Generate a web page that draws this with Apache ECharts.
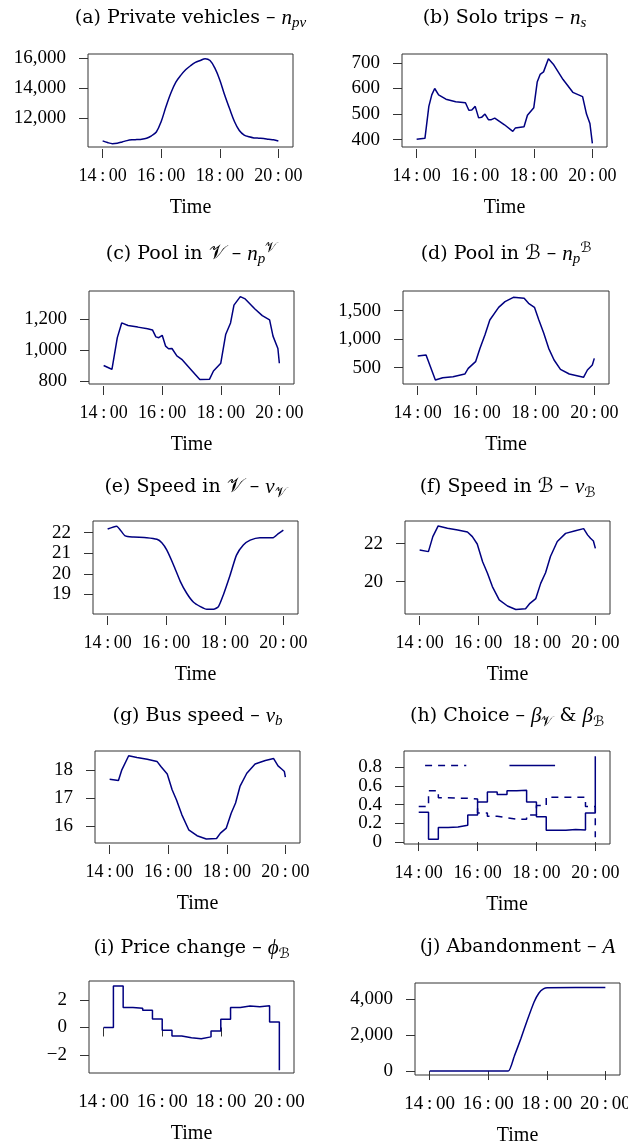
<!DOCTYPE html>
<html>
<head>
<meta charset="utf-8">
<title>Simulation results</title>
<script src="https://cdn.jsdelivr.net/npm/echarts@6.0.0/dist/echarts.min.js"></script>
<style>
  html, body { margin: 0; padding: 0; background: #fff; }
  #main { width: 628px; height: 1144px; }
</style>
</head>
<body>
<div id="main"></div>
<script>
// ---- data ----
var hourTicks = [14, 16, 18, 20];

// (a) private vehicles
var privT = ["14:00","14:10","14:20","14:30","14:40","14:50","15:00","15:10","15:20","15:30","15:40","15:50",
  "16:00","16:10","16:20","16:30","16:40","16:50","17:00","17:10","17:20","17:30","17:40","17:50",
  "18:00","18:10","18:20","18:30","18:40","18:50","19:00","19:10","19:20","19:30","19:40","19:50","20:00"];
var privV = [10510,10400,10330,10360,10440,10530,10580,10600,10620,10690,10850,11100,
  11800,12800,13700,14400,14850,15220,15490,15710,15840,15960,15840,15330,
  14550,13550,12650,11800,11200,10900,10780,10710,10690,10670,10620,10580,10510];
var privTicks = [12000, 14000, 16000];

// (b) solo trips
var soloT = ["14:00","14:17","14:25","14:31","14:37","14:45","15:00","15:20","15:40","15:47","15:53","16:00",
  "16:07","16:13","16:20","16:27","16:33","16:40","17:00","17:17","17:22","17:40","17:47","18:00",
  "18:07","18:13","18:20","18:30","18:40","19:00","19:20","19:40","19:48","19:55","20:00"];
var soloV = [401,405,530,575,600,575,558,548,544,515,516,530,
  485,487,500,478,478,484,458,432,445,450,495,525,
  625,655,665,716,695,635,585,568,500,463,385];
var soloTicks = [400, 500, 600, 700];

// (c) pool in V
var poolVT = ["14:00","14:10","14:17","14:28","14:37","14:50","15:10","15:30","15:40","15:47","15:53","16:00",
  "16:07","16:13","16:20","16:30","16:40","17:00","17:17","17:37","17:45","18:00","18:10","18:20",
  "18:27","18:40","18:50","19:10","19:25","19:40","19:47","19:57","20:00"];
var poolVV = [900,886,875,1080,1175,1158,1148,1137,1130,1085,1080,1095,
  1025,1008,1010,962,940,870,810,812,865,915,1100,1175,
  1290,1345,1330,1265,1222,1195,1090,1010,915];
var poolVTicks = [800, 1000, 1200];

// (d) pool in B
var poolBT = ["14:00","14:17","14:36","14:51","15:12","15:36","15:43","15:58","16:07","16:17","16:27","16:45",
  "16:58","17:15","17:37","17:46","17:58","18:07","18:17","18:27","18:38","18:51","19:09","19:38",
  "19:46","19:56","20:00"];
var poolBV = [704,722,283,324,342,388,488,605,839,1073,1336,1558,
  1658,1734,1716,1629,1558,1336,1102,839,634,470,388,330,
  459,546,663];
var poolBTicks = [500, 1000, 1500];

// (e) speed in V
var speedVT = ["14:00","14:18","14:36","14:53","15:20","15:41","15:51","16:01","16:15","16:29","16:42","16:56",
  "17:10","17:23","17:37","17:47","17:57","18:11","18:24","18:38","18:52","19:12","19:39","19:49","20:00"];
var speedVV = [22.18,22.32,21.84,21.79,21.76,21.68,21.51,21.16,20.43,19.62,19.05,18.61,
  18.40,18.27,18.27,18.40,18.97,19.94,20.91,21.40,21.64,21.76,21.76,21.94,22.13];
var speedVTicks = [19, 20, 21, 22];

// (f) speed in B
var speedBT = ["14:00","14:18","14:27","14:38","14:57","15:18","15:38","15:48","15:58","16:09","16:19","16:29",
  "16:43","17:00","17:17","17:37","17:46","17:58","18:08","18:18","18:28","18:42","18:59","19:19",
  "19:36","19:44","19:50","19:56","20:00"];
var speedBV = [21.67,21.58,22.37,22.93,22.81,22.72,22.61,22.37,21.98,21.05,20.44,19.74,
  19.04,18.72,18.54,18.58,18.86,19.11,19.91,20.47,21.32,22.11,22.54,22.68,
  22.79,22.46,22.28,22.14,21.75];
var speedBTicks = [20, 22];

// (g) bus speed
var busT = ["14:00","14:18","14:25","14:39","14:56","15:17","15:37","15:45","15:58","16:08","16:17","16:28",
  "16:42","16:59","17:18","17:39","17:47","17:59","18:09","18:18","18:27","18:41","18:58","19:19",
  "19:36","19:45","19:53","19:58","20:00"];
var busV = [17.67,17.62,18.0,18.50,18.44,18.38,18.30,18.12,17.85,17.29,16.93,16.40,
  15.87,15.66,15.54,15.56,15.75,15.93,16.46,16.82,17.41,17.88,18.21,18.33,
  18.40,18.14,18.02,17.94,17.74];
var busTicks = [16, 17, 18];

// (h) choice and (i) price, piecewise constant over 20 min periods
var stepT = ["14:00","14:20","14:40","15:00","15:20","15:40","16:00","16:20","16:40","17:00",
  "17:20","17:40","18:00","18:20","18:40","19:00","19:20","19:40","20:00"];
var betaV = [0.32,0.03,0.155,0.16,0.18,0.29,0.43,0.535,0.51,0.55,
  0.555,0.43,0.27,0.125,0.125,0.135,0.13,0.31,0.92];
var betaB = [0.38,0.55,0.475,0.47,0.47,0.46,0.31,0.275,0.26,0.245,
  0.245,0.29,0.39,0.48,0.48,0.48,0.48,0.38,0.05];
var topDashT = ["14:13","15:37"];
var topDashV = [0.82, 0.82];
var topSolidT = ["17:05","18:38"];
var topSolidV = [0.82, 0.82];
var choiceTicks = [0, 0.4, 0.8];
var choiceTicks2 = [0.2, 0.6];   // drawn on a twin axis so none get thinned out

var priceV = [0,3.0,1.45,1.40,1.25,0.62,-0.2,-0.62,-0.75,-0.82,
  -0.68,-0.25,0.60,1.45,1.55,1.50,1.57,0.40,-3.1];
var priceTicks = [-2, 0, 2];

// (j) abandonment
var abandonT = ["14:00","16:41","16:53","17:07","17:20","17:34","17:44","17:53","18:01","20:00"];
var abandonV = [0,0,796,1815,2833,3852,4352,4574,4648,4650];
var abandonTicks = [0, 2000, 4000];

// ---- helpers ----
var LINE = '#000080';
var AXIS = '#333333';
var SERIF = "'Liberation Serif', 'Times New Roman', serif";
var CAPTION = "'DejaVu Serif', 'Liberation Serif', serif";
var MATH = "'Liberation Serif', 'DejaVu Serif', 'DejaVu Sans', serif";

function hrs(s) {
	var p = s.split(':');
	return +p[0] + (+p[1]) / 60;
}

function pairs(ts, vs) {
	return ts.map(function(t, i) {
		return [hrs(t), vs[i]];
	});
}

function fmtNum(v) {
	var a = Math.abs(v);
	var s = a >= 1000 ? String(a).replace(/\B(?=(\d{3})+(?!\d))/g, ',') : String(a);
	return (v < 0 ? '\u2212' : '') + s;
}

function fmtHour(v) {
	return Math.round(v) + '\u2009:\u200900';
}

function tok(o) {
	o.color = '#000';
	o.fontWeight = 'normal';
	return o;
}

var RICH = {
	t: tok({ fontFamily: CAPTION, fontSize: 19, lineHeight: 26 }),
	i: tok({ fontFamily: SERIF, fontStyle: 'italic', fontSize: 21, lineHeight: 26 }),
	c: tok({ fontFamily: MATH, fontSize: 20, lineHeight: 26 }),
	s: tok({ fontFamily: SERIF, fontStyle: 'italic', fontSize: 15, lineHeight: 14, verticalAlign: 'bottom' }),
	sc: tok({ fontFamily: MATH, fontSize: 14, lineHeight: 14, verticalAlign: 'bottom' }),
	u: tok({ fontFamily: MATH, fontSize: 14, lineHeight: 14, verticalAlign: 'top' })
};

var panels = [
	{ title: '{t|(a) Private vehicles \u2013 }{i|n}{s|pv}', box: [88, 54, 205, 93], ty: 18,
		y: [10107, 16267], ticks: privTicks, lines: [{ data: pairs(privT, privV), smooth: 0.35 }] },
	{ title: '{t|(b) Solo trips \u2013 }{i|n}{s|s}', box: [402, 54, 205, 93], ty: 18,
		y: [371, 735], ticks: soloTicks, lines: [{ data: pairs(soloT, soloV) }] },
	{ title: '{t|(c) Pool in }{c|\uD835\uDCB1}{t| \u2013 }{i|n}{s|p}{u|\uD835\uDCB1}', box: [89, 291, 205, 93], ty: 254,
		y: [781, 1381], ticks: poolVTicks, lines: [{ data: pairs(poolVT, poolVV) }] },
	{ title: '{t|(d) Pool in }{c|\u212C}{t| \u2013 }{i|n}{s|p}{u|\u212C}', box: [403, 291, 206, 93], ty: 254,
		y: [213, 1845], ticks: poolBTicks, lines: [{ data: pairs(poolBT, poolBV) }] },
	{ title: '{t|(e) Speed in }{c|\uD835\uDCB1}{t| \u2013 }{i|v}{sc|\uD835\uDCB1}', box: [93, 521, 205, 93], ty: 487,
		y: [18.04, 22.57], ticks: speedVTicks, lines: [{ data: pairs(speedVT, speedVV), smooth: 0.2 }] },
	{ title: '{t|(f) Speed in }{c|\u212C}{t| \u2013 }{i|v}{sc|\u212C}', box: [405, 521, 205, 93], ty: 487,
		y: [18.30, 23.19], ticks: speedBTicks, lines: [{ data: pairs(speedBT, speedBV) }] },
	{ title: '{t|(g) Bus speed \u2013 }{i|v}{s|b}', box: [95, 751, 205, 92], ty: 716,
		y: [15.40, 18.67], ticks: busTicks, lines: [{ data: pairs(busT, busV) }] },
	{ title: '{t|(h) Choice \u2013 }{i|\u03B2}{sc|\uD835\uDCB1}{t| & }{i|\u03B2}{sc|\u212C}', box: [404, 751, 206, 93], ty: 716,
		y: [-0.021, 0.975], ticks: choiceTicks, ticks2: choiceTicks2, lines: [
			{ data: pairs(stepT, betaV), step: 'end' },
			{ data: pairs(stepT, betaB), step: 'end', dash: true },
			{ data: pairs(topDashT, topDashV), dash: true },
			{ data: pairs(topSolidT, topSolidV) }
		] },
	{ title: '{t|(i) Price change \u2013 }{i|\u03D5}{sc|\u212C}', box: [89, 981, 205, 92], ty: 948, xFont: 19,
		y: [-3.30, 3.37], ticks: priceTicks, lines: [{ data: pairs(stepT, priceV), step: 'end' }] },
	{ title: '{t|(j) Abandonment \u2013 }{i|A}', box: [415, 983, 205, 92], ty: 947, xFont: 19,
		y: [-222, 4907], ticks: abandonTicks, lines: [{ data: pairs(abandonT, abandonV), smooth: 0.15 }] }
];

var option = {
	animation: false,
	backgroundColor: '#fff',
	title: [],
	grid: [],
	xAxis: [],
	yAxis: [],
	series: []
};

function makeYAxis(gi, p, ticks) {
	return {
		type: 'value',
		gridIndex: gi,
		position: 'left',
		min: p.y[0],
		max: p.y[1],
		axisLine: { show: false },
		axisTick: { show: true, length: 9, customValues: ticks, lineStyle: { color: AXIS } },
		axisLabel: { customValues: ticks, formatter: fmtNum, margin: 22,
			showMinLabel: true, showMaxLabel: true,
			fontFamily: SERIF, fontSize: 19, color: '#000' },
		splitLine: { show: false }
	};
}

panels.forEach(function(p, i) {
	option.title.push({
		text: p.title,
		left: p.box[0] + p.box[2] / 2,
		top: p.ty,
		textAlign: 'center',
		textVerticalAlign: 'middle',
		padding: 0,
		textStyle: { fontWeight: 'normal', rich: RICH }
	});
	option.grid.push({
		left: p.box[0],
		top: p.box[1],
		width: p.box[2],
		height: p.box[3],
		show: true,
		borderColor: AXIS,
		borderWidth: 1,
		containLabel: false,
		outerBoundsMode: 'none'
	});
	option.xAxis.push({
		type: 'value',
		gridIndex: i,
		min: 13.5,
		max: 20.5,
		offset: 2,
		name: 'Time',
		nameLocation: 'middle',
		nameGap: 49,
		nameTextStyle: { fontFamily: SERIF, fontSize: 20, color: '#000' },
		axisLine: { show: false },
		axisTick: { show: true, length: 9, customValues: hourTicks, lineStyle: { color: AXIS } },
		axisLabel: { customValues: hourTicks, formatter: fmtHour, margin: 18,
			fontFamily: SERIF, fontSize: p.xFont || 18, color: '#000' },
		splitLine: { show: false }
	});
	var yi = option.yAxis.length;
	option.yAxis.push(makeYAxis(i, p, p.ticks));
	if (p.ticks2) {
		option.yAxis.push(makeYAxis(i, p, p.ticks2));
	}
	p.lines.forEach(function(l) {
		option.series.push({
			type: 'line',
			xAxisIndex: i,
			yAxisIndex: yi,
			data: l.data,
			symbol: 'none',
			silent: true,
			smooth: l.smooth || false,
			step: l.step || false,
			lineStyle: { color: LINE, width: 1.5, type: l.dash ? [7, 6] : 'solid' }
		});
	});
});

var chart = echarts.init(document.getElementById('main'));
chart.setOption(option);
</script>
</body>
</html>
